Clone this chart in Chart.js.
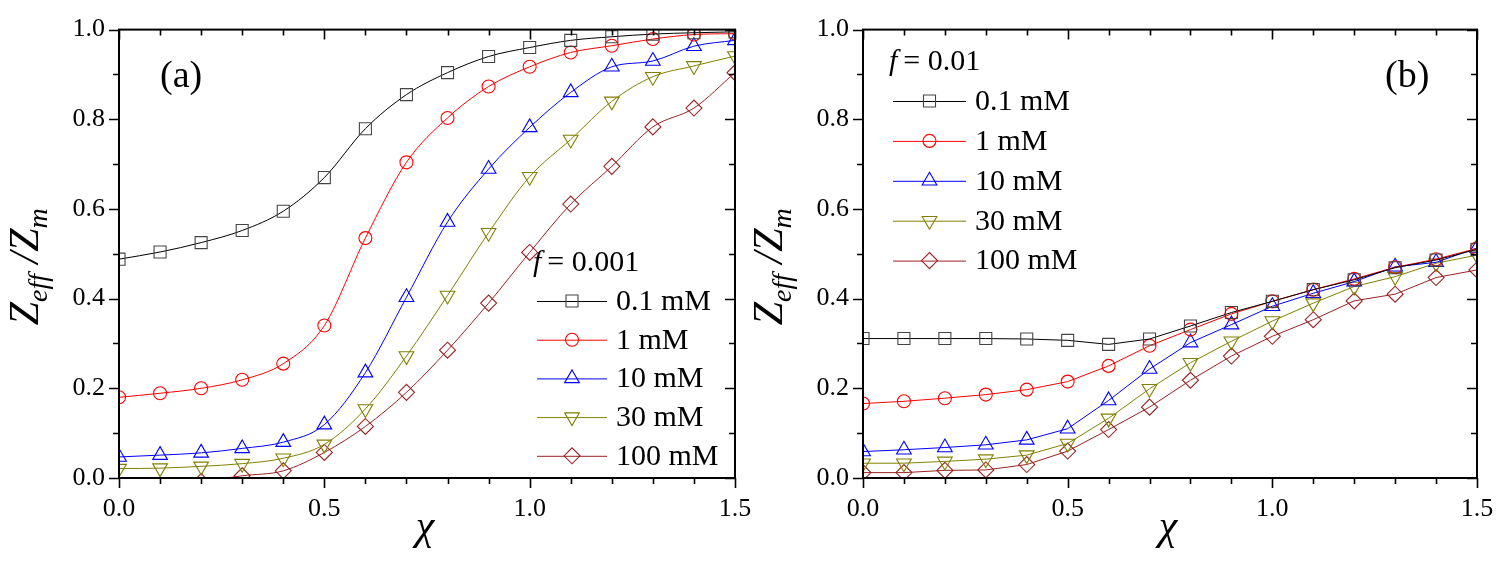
<!DOCTYPE html>
<html><head><meta charset="utf-8">
<script src="https://cdn.jsdelivr.net/npm/chart.js@4.4.1/dist/chart.umd.min.js"></script>
<style>
html,body{margin:0;padding:0;background:#fff;width:1500px;height:562px;overflow:hidden}
#c1{position:absolute;left:0;top:0}
#c2{position:absolute;left:750px;top:0}
</style></head><body>
<canvas id="c1" width="790" height="562"></canvas>
<canvas id="c2" width="770" height="562"></canvas>
<script>
// ---- data ----
const chi = [0.0,0.1,0.2,0.3,0.4,0.5,0.6,0.7,0.8,0.9,1.0,1.1,1.2,1.3,1.4,1.5];
const seriesLabels = ['0.1 mM','1 mM','10 mM','30 mM','100 mM'];
const xTickLabels = ['0.0','0.5','1.0','1.5'];
const yTickLabels = ['0.0','0.2','0.4','0.6','0.8','1.0'];

// panel (a): f = 0.001
const a_01mM  = [0.488,0.504,0.525,0.552,0.595,0.670,0.779,0.855,0.904,0.940,0.960,0.976,0.984,0.990,0.993,0.995];
const a_1mM   = [0.180,0.189,0.200,0.219,0.255,0.340,0.535,0.704,0.803,0.873,0.917,0.949,0.964,0.979,0.989,0.991];
const a_10mM  = [0.047,0.051,0.056,0.066,0.080,0.119,0.235,0.403,0.571,0.689,0.782,0.860,0.917,0.930,0.963,0.976];
const a_30mM  = [0.021,0.022,0.026,0.032,0.044,0.075,0.154,0.272,0.407,0.547,0.672,0.755,0.840,0.895,0.919,0.941];
const a_100mM = [-0.030,-0.020,-0.008,0.005,0.016,0.057,0.115,0.191,0.285,0.390,0.503,0.611,0.695,0.783,0.825,0.904];

// panel (b): f = 0.01
const b_01mM  = [0.311,0.311,0.311,0.311,0.310,0.307,0.298,0.310,0.339,0.369,0.394,0.420,0.442,0.469,0.486,0.510];
const b_1mM   = [0.166,0.171,0.178,0.186,0.197,0.215,0.250,0.295,0.331,0.366,0.394,0.420,0.444,0.470,0.488,0.512];
const b_10mM  = [0.059,0.063,0.068,0.074,0.085,0.110,0.173,0.243,0.302,0.342,0.383,0.412,0.438,0.471,0.481,0.513];
const b_30mM  = [0.033,0.033,0.037,0.042,0.051,0.077,0.133,0.199,0.257,0.305,0.350,0.390,0.427,0.449,0.479,0.497];
const b_100mM = [0.012,0.012,0.017,0.018,0.030,0.060,0.108,0.158,0.218,0.272,0.316,0.353,0.395,0.410,0.447,0.464];

// ---- styles ----
const SERIF = '"Liberation Serif", serif';
const styles = [
  {line:'#000000', mark:'#444444', pointStyle:'rect', r:8.5, rot:0},
  {line:'#ff0000', mark:'#ff0000', pointStyle:'circle', r:6.5, rot:0},
  {line:'#0000ff', mark:'#0000ff', pointStyle:'triangle', r:8.5, rot:0},
  {line:'#808000', mark:'#808000', pointStyle:'triangle', r:8.5, rot:180},
  {line:'#9b2222', mark:'#9b2222', pointStyle:'rectRot', r:8, rot:0}
];

function makeDatasets(arrs, smooth){
  return arrs.map((arr,i)=>{
    const s = styles[i];
    return {
      label: seriesLabels[i],
      data: chi.map((x,k)=>({x:x, y:arr[k]})),
      borderColor: s.line,
      borderWidth: 1,
      pointStyle: s.pointStyle,
      pointRotation: s.rot,
      pointRadius: s.r,
      pointHoverRadius: s.r,
      pointBorderColor: s.mark,
      pointBackgroundColor: 'rgba(0,0,0,0)',
      pointBorderWidth: 1.1,
      fill: false,
      tension: smooth ? 0.4 : 0,
      cubicInterpolationMode: smooth ? 'monotone' : 'default',
      clip: 0
    };
  });
}

function drawMarker(ctx, s, x, y){
  ctx.save();
  ctx.strokeStyle = s.mark;
  ctx.fillStyle = 'rgba(0,0,0,0)';
  ctx.lineWidth = 1.1;
  if (Chart.helpers && Chart.helpers.drawPoint){
    Chart.helpers.drawPoint(ctx, {pointStyle:s.pointStyle, rotation:s.rot, radius:s.r, borderWidth:1.1}, x, y);
  }
  ctx.restore();
}

const framePlugin = {
  id:'frameTicks',
  afterDatasetsDraw(chart, args, opts){
    const ctx = chart.ctx, a = chart.chartArea;
    const xs = chart.scales.x, ys = chart.scales.y;
    ctx.save();
    ctx.strokeStyle = '#000';
    ctx.lineWidth = 2;
    ctx.strokeRect(a.left, a.top, a.right - a.left, a.bottom - a.top);
    ctx.lineWidth = 1.6;
    const MAJ = 10, MIN = 6;
    for (let i = 0; i <= 15; i++){
      const v = i/10, px = Math.round(xs.getPixelForValue(v)) + 0.5;
      const len = (i % 5 === 0) ? MAJ : MIN;
      ctx.beginPath();
      ctx.moveTo(px, a.bottom); ctx.lineTo(px, a.bottom + len);
      ctx.moveTo(px, a.top); ctx.lineTo(px, a.top + len);
      ctx.stroke();
    }
    for (let i = 0; i <= 10; i++){
      const v = i/10, py = Math.round(ys.getPixelForValue(v)) + 0.5;
      const len = (i % 2 === 0) ? MAJ : MIN;
      ctx.beginPath();
      ctx.moveTo(a.left, py); ctx.lineTo(a.left - len, py);
      ctx.moveTo(a.right, py); ctx.lineTo(a.right - len, py);
      ctx.stroke();
    }
    ctx.restore();

    // x-axis title
    ctx.save();
    ctx.fillStyle = '#000';
    ctx.textBaseline = 'alphabetic';
    ctx.font = 'italic 42px ' + SERIF;
    ctx.textAlign = 'center';
    ctx.fillText('\u03C7', (a.left + a.right)/2 - 2, 539);
    ctx.restore();

    // y-axis title
    ctx.save();
    ctx.fillStyle = '#000';
    ctx.translate(a.left - 81, (a.top + a.bottom)/2 + 13);
    ctx.rotate(-Math.PI/2);
    const big = 'italic 42px ' + SERIF, small = 'italic 28px ' + SERIF;
    const parts = [
      {t:'Z', f:big, dy:0},
      {t:'eff', f:small, dy:9},
      {t:' /', f:big, dy:0},
      {t:'Z', f:big, dy:0},
      {t:'m', f:small, dy:9}
    ];
    let total = 0;
    parts.forEach(p=>{ ctx.font = p.f; p.w = ctx.measureText(p.t).width; total += p.w; });
    let x = -total/2;
    ctx.textAlign = 'left';
    ctx.textBaseline = 'alphabetic';
    parts.forEach(p=>{ ctx.font = p.f; ctx.fillText(p.t, x, p.dy); x += p.w; });
    ctx.restore();

    // panel label
    ctx.save();
    ctx.fillStyle = '#000';
    ctx.font = '38px ' + SERIF;
    ctx.textAlign = 'left';
    ctx.textBaseline = 'alphabetic';
    ctx.fillText(opts.panel, opts.panelX, 87);
    ctx.restore();

    // legend
    const L = opts.legend;
    ctx.save();
    ctx.fillStyle = '#000';
    ctx.textBaseline = 'middle';
    ctx.textAlign = 'left';
    ctx.font = 'italic 30px ' + SERIF;
    ctx.fillText('f', L.headX, L.headY);
    const fw = ctx.measureText('f').width;
    ctx.font = '30px ' + SERIF;
    ctx.fillText('= ' + L.fval, L.headX + fw + 6, L.headY);
    chart.data.datasets.forEach((ds, i)=>{
      const y = L.y0 + i*L.dy;
      const s = styles[i];
      ctx.strokeStyle = s.line; ctx.lineWidth = 1;
      ctx.beginPath(); ctx.moveTo(L.x0, y + 0.5); ctx.lineTo(L.x1, y + 0.5); ctx.stroke();
      drawMarker(ctx, s, (L.x0 + L.x1)/2, y);
      ctx.fillStyle = '#000';
      ctx.font = '30px ' + SERIF;
      ctx.fillText(ds.label, L.tx, y + 1);
    });
    ctx.restore();
  }
};

function makeChart(id, arrs, smooth, yAxisWidth, padRight, pluginOpts){
  return new Chart(document.getElementById(id), {
    type:'line',
    data:{ datasets: makeDatasets(arrs, smooth) },
    options:{
      responsive:false,
      animation:false,
      devicePixelRatio:1,
      font:{family:SERIF},
      layout:{ padding:{ left:0, right:padRight, top:26, bottom:0 } },
      plugins:{ legend:{display:false}, tooltip:{enabled:false}, frameTicks: pluginOpts },
      scales:{
        x:{
          type:'linear', min:0, max:1.5,
          grid:{display:false, drawTicks:false},
          border:{display:false},
          afterFit(s){ s.height = 84; },
          afterBuildTicks(s){ s.ticks = xTickLabels.map(t=>({value: parseFloat(t)})); },
          ticks:{ autoSkip:false, maxRotation:0, padding:16, color:'#000',
                  font:{family:SERIF, size:26},
                  callback:(v)=> xTickLabels.find(t=>parseFloat(t)===v) || '' }
        },
        y:{
          type:'linear', min:0, max:1.0,
          grid:{display:false, drawTicks:false},
          border:{display:false},
          afterFit(s){ s.width = yAxisWidth; },
          afterBuildTicks(s){ s.ticks = yTickLabels.map(t=>({value: parseFloat(t)})); },
          ticks:{ autoSkip:false, padding:14, color:'#000',
                  font:{family:SERIF, size:26},
                  callback:(v)=> yTickLabels.find(t=>parseFloat(t)===v) || '' }
        }
      }
    },
    plugins:[framePlugin]
  });
}

function build(){
  Chart.defaults.font.family = SERIF;
  makeChart('c1', [a_01mM,a_1mM,a_10mM,a_30mM,a_100mM], true, 119, 55, {
    panel:'(a)', panelX:160,
    legend:{ fval:'0.001', headX:533, headY:263, x0:537, x1:607, tx:616, y0:301, dy:38.7 }
  });
  makeChart('c2', [b_01mM,b_1mM,b_10mM,b_30mM,b_100mM], false, 113, 43, {
    panel:'(b)', panelX:635,
    legend:{ fval:'0.01', headX:139, headY:62, x0:143, x1:216, tx:225, y0:101, dy:39.9 }
  });
}
const loads = ['26px "Liberation Serif"','italic 42px "Liberation Serif"','30px "Liberation Serif"'].map(f=>document.fonts.load(f));
Promise.all(loads).then(build, build);
</script>
</body></html>
